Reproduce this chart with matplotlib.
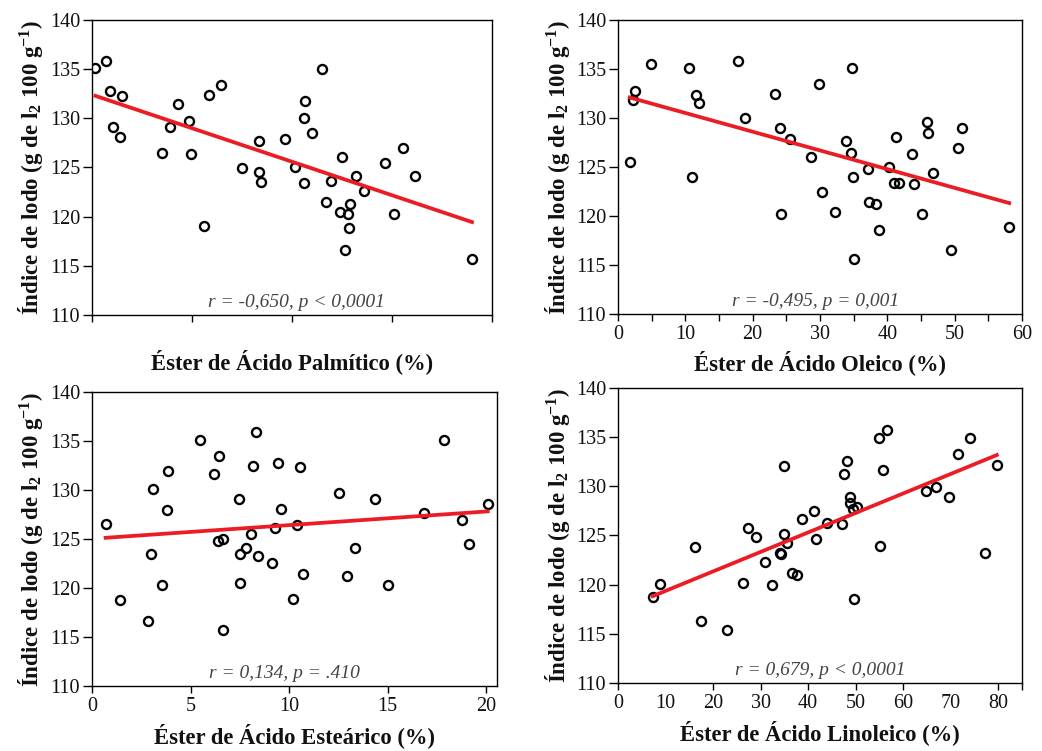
import numpy as np
import matplotlib
matplotlib.use("Agg")
import matplotlib.pyplot as plt

plt.rcParams['font.family'] = ['Liberation Serif', 'DejaVu Serif']
plt.rcParams['mathtext.fontset'] = 'custom'
plt.rcParams['mathtext.rm'] = 'Liberation Serif'
plt.rcParams['mathtext.bf'] = 'Liberation Serif:bold'
plt.rcParams['mathtext.default'] = 'regular'

# ---------------- data ----------------
palm_x = [5.17, 5.68, 5.88, 6.48, 6.07, 6.42, 8.52, 8.92, 9.32, 9.85, 9.93, 10.58, 10.87, 11.43,
          12.48, 13.37, 13.37, 13.47, 14.67, 15.13, 15.58, 15.67, 15.58, 15.98, 16.52, 16.72,
          16.93, 17.48, 17.38, 17.82, 17.90, 17.87, 17.63, 18.22, 18.58, 19.67, 20.08, 20.53,
          21.17, 24.00]
palm_y = [135.1, 135.8, 132.8, 132.3, 129.1, 128.1, 126.5, 129.1, 131.5, 129.7, 126.4, 119.0,
          132.4, 133.4, 124.9, 127.7, 124.5, 123.5, 127.9, 125.1, 130.0, 131.8, 123.4, 128.5,
          135.0, 121.5, 123.6, 126.1, 120.5, 120.3, 121.3, 118.8, 116.6, 124.1, 122.6, 125.5,
          120.3, 127.0, 124.1, 115.7]

oleic_x = [1.74, 2.28, 2.58, 4.86, 10.61, 10.96, 11.65, 12.0, 17.85, 18.79, 23.3, 24.1, 24.2,
           25.5, 28.66, 29.85, 30.24, 32.3, 33.8, 34.66, 34.75, 34.85, 35.05, 37.1, 37.3, 38.3,
           38.8, 40.3, 41.05, 41.75, 41.35, 43.7, 43.98, 45.2, 45.96, 46.1, 46.8, 49.5, 50.47,
           51.16, 58.1]
oleic_y = [125.5, 131.8, 132.8, 135.5, 135.1, 124.0, 132.3, 131.5, 135.8, 130.0, 132.4, 129.0,
           120.2, 127.9, 126.0, 133.5, 122.5, 120.4, 127.7, 126.4, 135.1, 124.0, 115.6, 124.8,
           121.4, 121.2, 118.6, 125.0, 123.4, 123.4, 128.1, 126.3, 123.3, 120.2, 129.6, 128.5,
           124.4, 116.5, 126.9, 129.0, 118.9]

stear_x = [0.69, 1.42, 2.86, 2.97, 3.12, 3.53, 3.83, 3.85, 5.46, 6.19, 6.44, 6.37, 6.66, 6.63,
           7.44, 7.49, 7.53, 7.83, 8.08, 8.17, 8.31, 8.44, 9.12, 9.31, 9.46, 9.61, 10.22, 10.41,
           10.54, 10.71, 12.51, 12.95, 13.37, 14.37, 15.0, 16.85, 17.88, 18.76, 19.12, 20.08]
stear_y = [126.5, 118.8, 116.6, 123.5, 130.1, 120.3, 128.0, 131.9, 135.1, 131.6, 133.5, 124.8,
           125.0, 115.7, 129.1, 120.5, 123.5, 124.1, 125.5, 132.5, 135.9, 123.3, 122.6, 126.1,
           132.8, 128.1, 118.9, 126.4, 132.3, 121.4, 129.7, 121.2, 124.1, 129.1, 120.3, 127.7,
           135.1, 126.9, 124.5, 128.6]

linol_x = [7.3, 8.77, 16.14, 17.54, 22.95, 26.2, 27.4, 29.1, 31.0, 32.4, 34.0, 34.2, 35.0, 35.0,
           35.5, 36.6, 37.7, 38.7, 41.3, 41.75, 44.0, 47.2, 47.5, 48.1, 48.9, 48.84, 49.6, 49.5,
           50.2, 55.0, 55.1, 55.8, 56.6, 64.8, 66.9, 69.7, 71.6, 74.0, 77.3, 79.7]
linol_y = [118.7, 120.1, 123.8, 116.3, 115.4, 120.2, 125.8, 124.8, 122.3, 120.0, 123.2, 123.1,
           132.1, 125.2, 124.2, 121.2, 121.0, 126.7, 127.5, 124.6, 126.3, 126.2, 131.3, 132.6,
           128.9, 128.3, 118.5, 127.7, 127.9, 134.9, 123.9, 131.7, 135.7, 129.5, 129.9, 128.9,
           133.3, 134.9, 123.2, 132.2]

xlabels = ["Éster de Ácido Palmítico (%)", "Éster de Ácido Oleico (%)",
           "Éster de Ácido Esteárico (%)", "Éster de Ácido Linoleico (%)"]
stats = ["r = -0,650, p < 0,0001", "r = -0,495, p = 0,001",
         "r = 0,134, p = .410", "r = 0,679, p < 0,0001"]
ylabel = r"Índice de lodo (g de l$_{2}$ 100 g$^{-1}$)"
y_ticks = [110, 115, 120, 125, 130, 135, 140]

W, H = 1042, 751
fig = plt.figure(figsize=(W / 100, H / 100), dpi=100)

def px_axes(l, r, t, b):
    return fig.add_axes([l / W, (H - b) / H, (r - l) / W, (b - t) / H])

panels = [
    dict(box=(92, 492, 20, 315), x=palm_x, y=palm_y, xlim=(5, 25), ticks=[5, 10, 15, 20, 25],
         labels=None, hidden=[], xl_off=47, txt=(0.512, 0.044)),
    dict(box=(618, 1022, 20, 314), x=oleic_x, y=oleic_y, xlim=(0, 60),
         ticks=list(range(0, 61, 5)), labels=list(range(0, 61, 10)), hidden=[],
         xl_off=49, txt=(0.49, 0.041)),
    dict(box=(92, 497, 392, 686), x=stear_x, y=stear_y, xlim=(0, 20.55), ticks=[0, 5, 10, 15, 20],
         labels=[0, 5, 10, 15, 20], hidden=[], xl_off=50, txt=(0.474, 0.044)),
    dict(box=(618, 1022, 388, 683), x=linol_x, y=linol_y, xlim=(0, 85),
         ticks=[0, 10, 20, 30, 40, 50, 60, 70, 80, 85], labels=list(range(0, 81, 10)),
         hidden=[10, 70], xl_off=50, txt=(0.50, 0.041)),
]

for p, xlab, st in zip(panels, xlabels, stats):
    ax = px_axes(*p['box'])
    x = np.array(p['x']); y = np.array(p['y'])
    ax.plot(x, y, 'o', ms=6.5, mfc='none', mec='black', mew=1.7, zorder=3)
    k, c = np.polyfit(x, y, 1)
    xs = np.array([x.min(), x.max()])
    ax.plot(xs, k * xs + c, color='#ec1c24', lw=2.7, zorder=4)
    ax.set_xlim(*p['xlim'])
    ax.set_ylim(110, 140)
    ax.set_yticks(y_ticks)
    ax.set_xticks(p['ticks'])
    if p['labels'] is None:
        ax.set_xticklabels([''] * len(p['ticks']))
    else:
        ax.set_xticklabels([str(t) if t in p['labels'] else '' for t in p['ticks']])
    ax.tick_params(axis='both', direction='out', labelsize=14.5, width=1.0, color='black',
                   labelcolor='#111111')
    ax.tick_params(axis='y', length=6.5, pad=2)
    ax.tick_params(axis='x', length=5, pad=3)
    for t, tk in zip(p['ticks'], ax.xaxis.get_major_ticks()):
        if t in p['hidden']:
            tk.tick1line.set_visible(False)
    for s in ax.spines.values():
        s.set_linewidth(1.0)
    ax.set_xlabel(xlab, fontsize=16.3, fontweight='bold', color='#111111')
    ax.xaxis.set_label_coords(0.5, -p['xl_off'] / (p['box'][3] - p['box'][2]))
    ax.xaxis.label.set_va('center')
    ax.set_ylabel(ylabel, fontsize=16.5, fontweight='bold', color='#111111')
    ax.yaxis.set_label_coords(-61 / (p['box'][1] - p['box'][0]), 0.5)
    ax.yaxis.label.set_va('center')
    ax.text(p['txt'][0], p['txt'][1], st, transform=ax.transAxes, ha='center', va='center',
            fontsize=14, style='italic', color='#444444')

fig.savefig("out.png", dpi=100)
